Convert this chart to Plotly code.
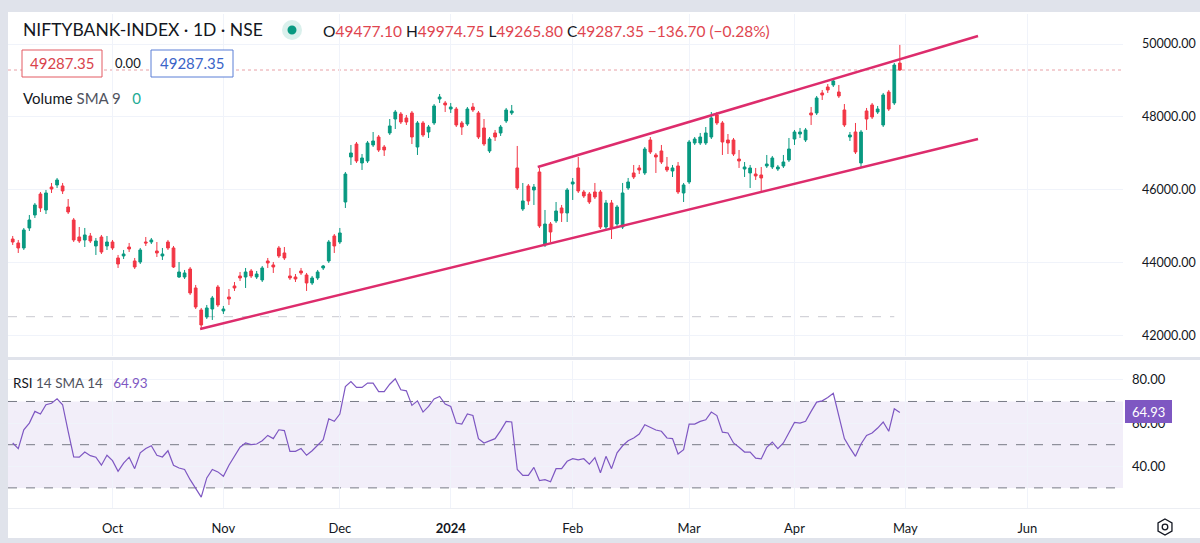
import plotly.graph_objects as go

# ---------------- data ----------------
opens = [44657, 44548, 44411, 44959, 45315, 45890, 45452, 46082, 46137, 46110,
         45534, 45178, 44712, 44630, 44740, 44466, 44712, 44466, 44575, 44137,
         44192, 44438, 44055, 44027, 44575, 44575, 44329, 44192, 44575, 44411,
         43616, 43616, 43835, 43315, 42712, 42520, 42739, 43342, 42685, 43068,
         43370, 43644, 43616, 43781, 43616, 43534, 44055, 43945, 44411, 44274,
         43644, 43616, 43781, 43671, 43452, 43589, 43863, 44055, 44740, 44575,
         45671, 46904, 47260, 46740, 46795, 47233, 47452, 47178, 47562, 47945,
         48082, 47973, 48110, 47178, 47836, 47589, 47836, 48493, 48384, 48219,
         48219, 47836, 47808, 48274, 48110, 47699, 47069, 47562, 47562, 47891,
         48110, 46603, 45479, 46110, 46000, 46493, 44493, 45068, 45151, 45507,
         45370, 46164, 46603, 45945, 45890, 45945, 45945, 44986, 45644, 45068,
         44986, 46055, 46466, 46603, 46466, 47370, 46959, 47069, 46630, 46521,
         46658, 45918, 46219, 47288, 47288, 47288, 47452, 48055, 47836, 47370,
         47370, 46849, 46575, 46466, 46438, 46411, 46658, 46630, 46575, 46658,
         46822, 47397, 47534, 47370, 48110, 48110, 48658, 48822, 48877, 48685,
         48192, 47452, 47589, 46740, 48165, 48329, 48137, 47781, 48685, 48384,
         49477.10]
highs = [44740, 44630, 44959, 45315, 45644, 45945, 46000, 46192, 46329, 46192,
         45753, 45233, 44986, 44959, 44822, 44685, 44767, 44740, 44630, 44219,
         44356, 44548, 44137, 44411, 44712, 44685, 44575, 44411, 44630, 44466,
         44027, 43808, 43890, 43397, 42767, 42849, 43096, 43397, 42822, 43287,
         43479, 43753, 43863, 43835, 43781, 43918, 44137, 44027, 44466, 44438,
         43863, 43698, 43863, 43726, 43644, 43808, 43945, 44630, 44794, 44959,
         46493, 47233, 47315, 46986, 47343, 47589, 47507, 47233, 47945, 48192,
         48137, 48055, 48165, 47891, 47891, 47781, 48356, 48630, 48439, 48384,
         48274, 47891, 48274, 48384, 48165, 47945, 47452, 47644, 47781, 48247,
         48329, 47206, 46192, 46164, 46164, 46603, 45452, 45123, 45671, 45589,
         46055, 46329, 46904, 46000, 45945, 46192, 46000, 45726, 45726, 45589,
         46192, 46329, 46685, 46685, 47178, 47452, 47014, 47233, 46904, 46685,
         46767, 46192, 47370, 47452, 47562, 47726, 48137, 48137, 47891, 47534,
         47425, 47096, 46767, 46685, 46603, 46630, 46959, 46932, 46685, 46959,
         47425, 47644, 47699, 47699, 48274, 48576, 48740, 48904, 49069, 48877,
         48356, 47589, 47836, 47644, 48247, 48384, 48302, 48658, 48740, 49480,
         49974.75]
lows = [44493, 44274, 44356, 44877, 45233, 45397, 45342, 45918, 46055, 45890,
        45342, 44575, 44548, 44438, 44548, 44219, 44246, 44356, 44356, 43863,
        44109, 44301, 43835, 43972, 44466, 44520, 44164, 44082, 44356, 43863,
        43589, 43561, 43123, 42739, 42164, 42465, 42438, 42794, 42602, 42849,
        43233, 43507, 43315, 43589, 43561, 43479, 43863, 43726, 44137, 44082,
        43534, 43479, 43671, 43233, 43397, 43534, 43808, 44000, 44274, 44520,
        45507, 46685, 46740, 46548, 46740, 47178, 47041, 46932, 47507, 47671,
        47808, 47781, 47260, 46959, 47452, 47425, 47781, 48384, 48137, 48110,
        47726, 47507, 47754, 48137, 47397, 47206, 47014, 47343, 47480, 47836,
        48055, 46000, 45425, 45589, 45589, 44959, 44438, 44575, 45096, 45123,
        45123, 45726, 45918, 45781, 45616, 45753, 44931, 44904, 44657, 45014,
        44931, 46000, 46301, 46438, 46411, 46986, 46466, 46712, 46493, 46356,
        45890, 45671, 46164, 47233, 47233, 47233, 47397, 47781, 46959, 46986,
        46932, 46603, 46356, 46055, 46274, 45945, 46603, 46575, 46521, 46603,
        46767, 47233, 47425, 47315, 47781, 48055, 48466, 48658, 48822, 48521,
        47726, 47343, 46986, 46603, 47644, 47945, 48082, 47726, 48165, 48329,
        49265.80]
closes = [44575, 44411, 44904, 45178, 45589, 45507, 45918, 46027, 46274, 45973,
          45397, 44630, 44603, 44767, 44603, 44603, 44301, 44575, 44411, 43972,
          44246, 44383, 43890, 44356, 44548, 44630, 44274, 44246, 44411, 43890,
          43753, 43726, 43178, 42794, 42301, 42767, 43041, 42849, 42739, 43013,
          43315, 43589, 43753, 43644, 43698, 43863, 44000, 43890, 44192, 44137,
          43589, 43561, 43726, 43452, 43589, 43753, 43918, 44575, 44466, 44822,
          46438, 47014, 46795, 46877, 47288, 47343, 47096, 47096, 47754, 48137,
          47863, 47863, 47452, 47836, 47507, 47726, 48302, 48548, 48329, 48274,
          47781, 47726, 48219, 48192, 47452, 47260, 47397, 47452, 47726, 48192,
          48165, 46055, 45699, 45699, 46082, 45014, 45068, 44849, 45425, 45370,
          46000, 46219, 45973, 45836, 45671, 45808, 44986, 45644, 44959, 45534,
          45918, 46219, 46356, 46548, 47123, 47041, 46904, 46767, 46548, 46603,
          45945, 46137, 47315, 47397, 47452, 47562, 47973, 47836, 47315, 47288,
          46986, 46795, 46630, 46603, 46384, 46329, 46712, 46877, 46630, 46767,
          47123, 47589, 47589, 47644, 48055, 48521, 48603, 48740, 48987, 48576,
          47781, 47507, 47041, 47589, 47945, 48000, 48219, 48603, 48219, 49424.05,
          49287.35]
rsi_values = [50.8, 48.2, 56.9, 60.0, 65.4, 64.2, 68.5, 69.2, 71.2, 68.5,
              56.2, 44.3, 44.2, 46.6, 44.9, 44.2, 40.5, 45.1, 42.6, 37.7,
              41.5, 44.2, 38.9, 46.2, 48.2, 49.5, 45.1, 44.3, 47.2, 40.5,
              39.2, 38.5, 33.8, 30.0, 25.7, 34.6, 38.5, 37.4, 35.4, 40.5,
              44.6, 48.8, 50.8, 50.0, 50.3, 51.8, 54.3, 52.8, 56.9, 56.5,
              46.9, 46.9, 48.2, 45.1, 47.2, 49.7, 52.3, 62.0, 60.8, 64.2,
              76.9, 79.2, 76.5, 76.5, 78.5, 78.5, 74.6, 74.6, 78.0, 80.5,
              75.4, 74.9, 68.2, 70.3, 65.1, 67.7, 71.2, 72.3, 68.8, 67.7,
              60.0, 59.5, 64.2, 63.5, 52.8, 50.8, 51.8, 52.8, 56.5, 60.8,
              60.5, 38.5, 35.8, 35.8, 39.5, 33.4, 33.8, 32.8, 38.9, 38.9,
              42.3, 43.5, 43.0, 43.5, 41.0, 44.0, 37.0, 44.6, 38.9, 46.2,
              49.5, 51.8, 53.1, 54.9, 59.2, 58.0, 56.8, 56.2, 53.1, 52.8,
              45.7, 47.7, 59.5, 59.5, 60.8, 61.5, 65.1, 63.5, 55.8, 55.4,
              50.8, 48.8, 46.6, 46.6, 43.8, 43.4, 48.8, 51.2, 48.2, 50.8,
              55.4, 60.3, 60.0, 60.8, 65.4, 69.7, 70.3, 71.8, 73.8, 62.6,
              52.8, 48.5, 44.6, 50.3, 54.3, 55.4, 57.7, 60.5, 56.2, 66.6,
              64.93]
bar_index = list(range(len(closes)))

month_tick_idx = [18, 38, 59, 79, 101, 122, 141, 161, 183]
month_tick_text = ["Oct", "Nov", "Dec", "<b>2024</b>", "Feb", "Mar", "Apr", "May", "Jun"]
price_ticks = [42000, 44000, 46000, 48000, 50000]
rsi_ticks = [40, 60, 80]
rsi_levels = [30, 50, 70]

lower_trend_x = [33.8, 174.1]
lower_trend_y = [42192, 47397]
upper_trend_x = [94.7, 174.1]
upper_trend_y = [46630, 50220]
last_close = 49287.35
prior_level = 42528
prior_level_end = 159

# ---------------- styling / layout helpers ----------------
W, H = 1200, 543
def fx(p):
    return p / W
def fy(p):
    return 1 - p / H

TXT = "#131722"
UP = "#089981"
DN = "#F23645"
PURPLE = "#7E57C2"
GRID = "#f0f3fa"
FONT = "Lato, 'Noto Sans', sans-serif"
X_RANGE = [-0.85, 200.25]

fig = go.Figure()

fig.add_trace(go.Candlestick(
    x=bar_index, open=opens, high=highs, low=lows, close=closes,
    increasing=dict(line=dict(color=UP, width=1), fillcolor=UP),
    decreasing=dict(line=dict(color=DN, width=1), fillcolor=DN),
    whiskerwidth=0, xaxis="x", yaxis="y", hoverinfo="skip", showlegend=False))

# trend lines
for tx, ty in ((lower_trend_x, lower_trend_y), (upper_trend_x, upper_trend_y)):
    fig.add_trace(go.Scatter(x=tx, y=ty, mode="lines",
                             line=dict(color="#DD2C6C", width=2.5),
                             xaxis="x", yaxis="y", hoverinfo="skip", showlegend=False))

# RSI line
fig.add_trace(go.Scatter(x=bar_index, y=rsi_values, mode="lines",
                         line=dict(color=PURPLE, width=1.2),
                         xaxis="x2", yaxis="y2", hoverinfo="skip", showlegend=False))

shapes = []
# outer grey frame
shapes.append(dict(type="rect", xref="paper", yref="paper", x0=0, x1=1, y0=fy(12), y1=1,
                   fillcolor="#e0e3eb", line=dict(width=0), layer="below"))
shapes.append(dict(type="rect", xref="paper", yref="paper", x0=0, x1=fx(8), y0=0, y1=1,
                   fillcolor="#e0e3eb", line=dict(width=0), layer="below"))
shapes.append(dict(type="rect", xref="paper", yref="paper", x0=0, x1=1, y0=0, y1=fy(538),
                   fillcolor="#e0e3eb", line=dict(width=0), layer="below"))
# pane separator
shapes.append(dict(type="rect", xref="paper", yref="paper", x0=fx(8), x1=1, y0=fy(360), y1=fy(357),
                   fillcolor="#e0e3eb", line=dict(width=0), layer="above"))
shapes.append(dict(type="line", xref="paper", yref="paper", x0=fx(8), x1=1, y0=fy(508.5), y1=fy(508.5),
                   line=dict(color="#eceef3", width=1), layer="below"))

# RSI band and levels
shapes.append(dict(type="rect", xref="x2", yref="y2", x0=X_RANGE[0], x1=X_RANGE[1],
                   y0=rsi_levels[0], y1=rsi_levels[2],
                   fillcolor="rgba(126,87,194,0.10)", line=dict(width=0), layer="below"))
for lv in rsi_levels:
    shapes.append(dict(type="line", xref="x2", yref="y2", x0=X_RANGE[0], x1=X_RANGE[1], y0=lv, y1=lv,
                       line=dict(color="#787B86", width=1, dash="dash"), layer="below"))

# current price dotted line and prior level dashed line
shapes.append(dict(type="line", xref="x", yref="y", x0=X_RANGE[0], x1=X_RANGE[1],
                   y0=last_close, y1=last_close,
                   line=dict(color="#e8a0a6", width=1, dash="dot"), layer="below"))
shapes.append(dict(type="line", xref="x", yref="y", x0=X_RANGE[0], x1=prior_level_end,
                   y0=prior_level, y1=prior_level,
                   line=dict(color="#c9c9d0", width=1, dash="dash"), layer="below"))

# header decorations: live dot, value boxes
shapes.append(dict(type="circle", xref="paper", yref="paper",
                   x0=fx(282), x1=fx(302), y0=fy(40), y1=fy(20),
                   fillcolor="rgba(8,153,129,0.15)", line=dict(width=0)))
shapes.append(dict(type="circle", xref="paper", yref="paper",
                   x0=fx(287.5), x1=fx(296.5), y0=fy(34.5), y1=fy(25.5),
                   fillcolor=UP, line=dict(width=0)))
shapes.append(dict(type="rect", xref="paper", yref="paper", x0=fx(22), x1=fx(102), y0=fy(77), y1=fy(50),
                   fillcolor="white", line=dict(color="#e35a62", width=1)))
shapes.append(dict(type="rect", xref="paper", yref="paper", x0=fx(151), x1=fx(233), y0=fy(77), y1=fy(50),
                   fillcolor="white", line=dict(color="#5b7fd6", width=1)))
# RSI value label on the axis
shapes.append(dict(type="rect", xref="paper", yref="paper", x0=fx(1125), x1=fx(1172), y0=fy(423), y1=fy(400),
                   fillcolor=PURPLE, line=dict(width=0), layer="above"))
# settings icon (hexagon + circle)
cx, cy, r = 1165, 527, 8
hexpath = "M {} {} L {} {} L {} {} L {} {} L {} {} L {} {} Z".format(
    fx(cx), fy(cy - r), fx(cx + 0.87 * r), fy(cy - r / 2), fx(cx + 0.87 * r), fy(cy + r / 2),
    fx(cx), fy(cy + r), fx(cx - 0.87 * r), fy(cy + r / 2), fx(cx - 0.87 * r), fy(cy - r / 2))
shapes.append(dict(type="path", xref="paper", yref="paper", path=hexpath,
                   line=dict(color=TXT, width=1.3)))
shapes.append(dict(type="circle", xref="paper", yref="paper",
                   x0=fx(cx - 2.8), x1=fx(cx + 2.8), y0=fy(cy + 2.8), y1=fy(cy - 2.8),
                   line=dict(color=TXT, width=1.3)))

annotations = []
def txt(x, y, text, size, color=TXT, anchor="left"):
    annotations.append(dict(xref="paper", yref="paper", x=fx(x), y=fy(y), text=text,
                            showarrow=False, xanchor=anchor, yanchor="middle",
                            font=dict(family=FONT, size=size, color=color)))

txt(21, 30, "NIFTYBANK-INDEX · 1D · NSE", 17.5)
RED = "#e0454f"
ohlc = ("O<span style='color:{r}'>49477.10</span> H<span style='color:{r}'>49974.75</span> "
        "L<span style='color:{r}'>49265.80</span> C<span style='color:{r}'>49287.35</span> "
        "<span style='color:{r}'>−136.70 (−0.28%)</span>").format(r=RED)
txt(321, 31, ohlc, 15.5)
txt(62, 63.5, "49287.35", 15, color="#d9434c", anchor="center")
txt(128, 63.5, "0.00", 13, anchor="center")
txt(192, 63.5, "49287.35", 15, color="#3a64c8", anchor="center")
txt(21, 98, "Volume <span style='color:#50535e'>SMA 9</span>   <span style='color:#22ab94'>0</span>", 15)
txt(11, 383, "RSI <span style='color:#50535e'>14 SMA 14</span>   <span style='color:#7E57C2'>64.93</span>", 13.5)
txt(1148.5, 411.5, "64.93", 13, color="white", anchor="center")

axis_common = dict(showline=False, zeroline=False, fixedrange=True, gridcolor=GRID, gridwidth=1)

fig.update_layout(
    width=W, height=H,
    margin=dict(l=0, r=0, t=0, b=0),
    paper_bgcolor="white", plot_bgcolor="white",
    showlegend=False,
    shapes=shapes, annotations=annotations,
    xaxis=dict(domain=[fx(8), fx(1123)], range=X_RANGE, anchor="y",
               tickvals=month_tick_idx, ticktext=month_tick_text, showticklabels=False,
               showgrid=True, rangeslider=dict(visible=False), **axis_common),
    xaxis2=dict(domain=[fx(8), fx(1123)], range=X_RANGE, anchor="y2", matches="x",
                tickvals=month_tick_idx, ticktext=month_tick_text, showticklabels=True,
                ticks="", ticklabelstandoff=11, showgrid=True,
                tickfont=dict(family=FONT, size=13, color=TXT), **axis_common),
    yaxis=dict(domain=[fy(356), fy(14)], range=[41451, 50822], anchor="x", side="right",
               tickvals=price_ticks, tickformat=".2f", ticks="", ticklabelstandoff=18,
               showgrid=True, tickfont=dict(family=FONT, size=12.5, color=TXT), **axis_common),
    yaxis2=dict(domain=[fy(508), fy(361)], range=[20.69, 88.74], anchor="x2", side="right",
                tickvals=rsi_ticks, tickformat=".2f", ticks="", ticklabelstandoff=8,
                showgrid=True, tickfont=dict(family=FONT, size=13, color=TXT), **axis_common),
)

fig.write_html("out.html", config={"displayModeBar": False},
               post_script="document.body.style.margin='0';document.body.style.overflow='hidden';")
